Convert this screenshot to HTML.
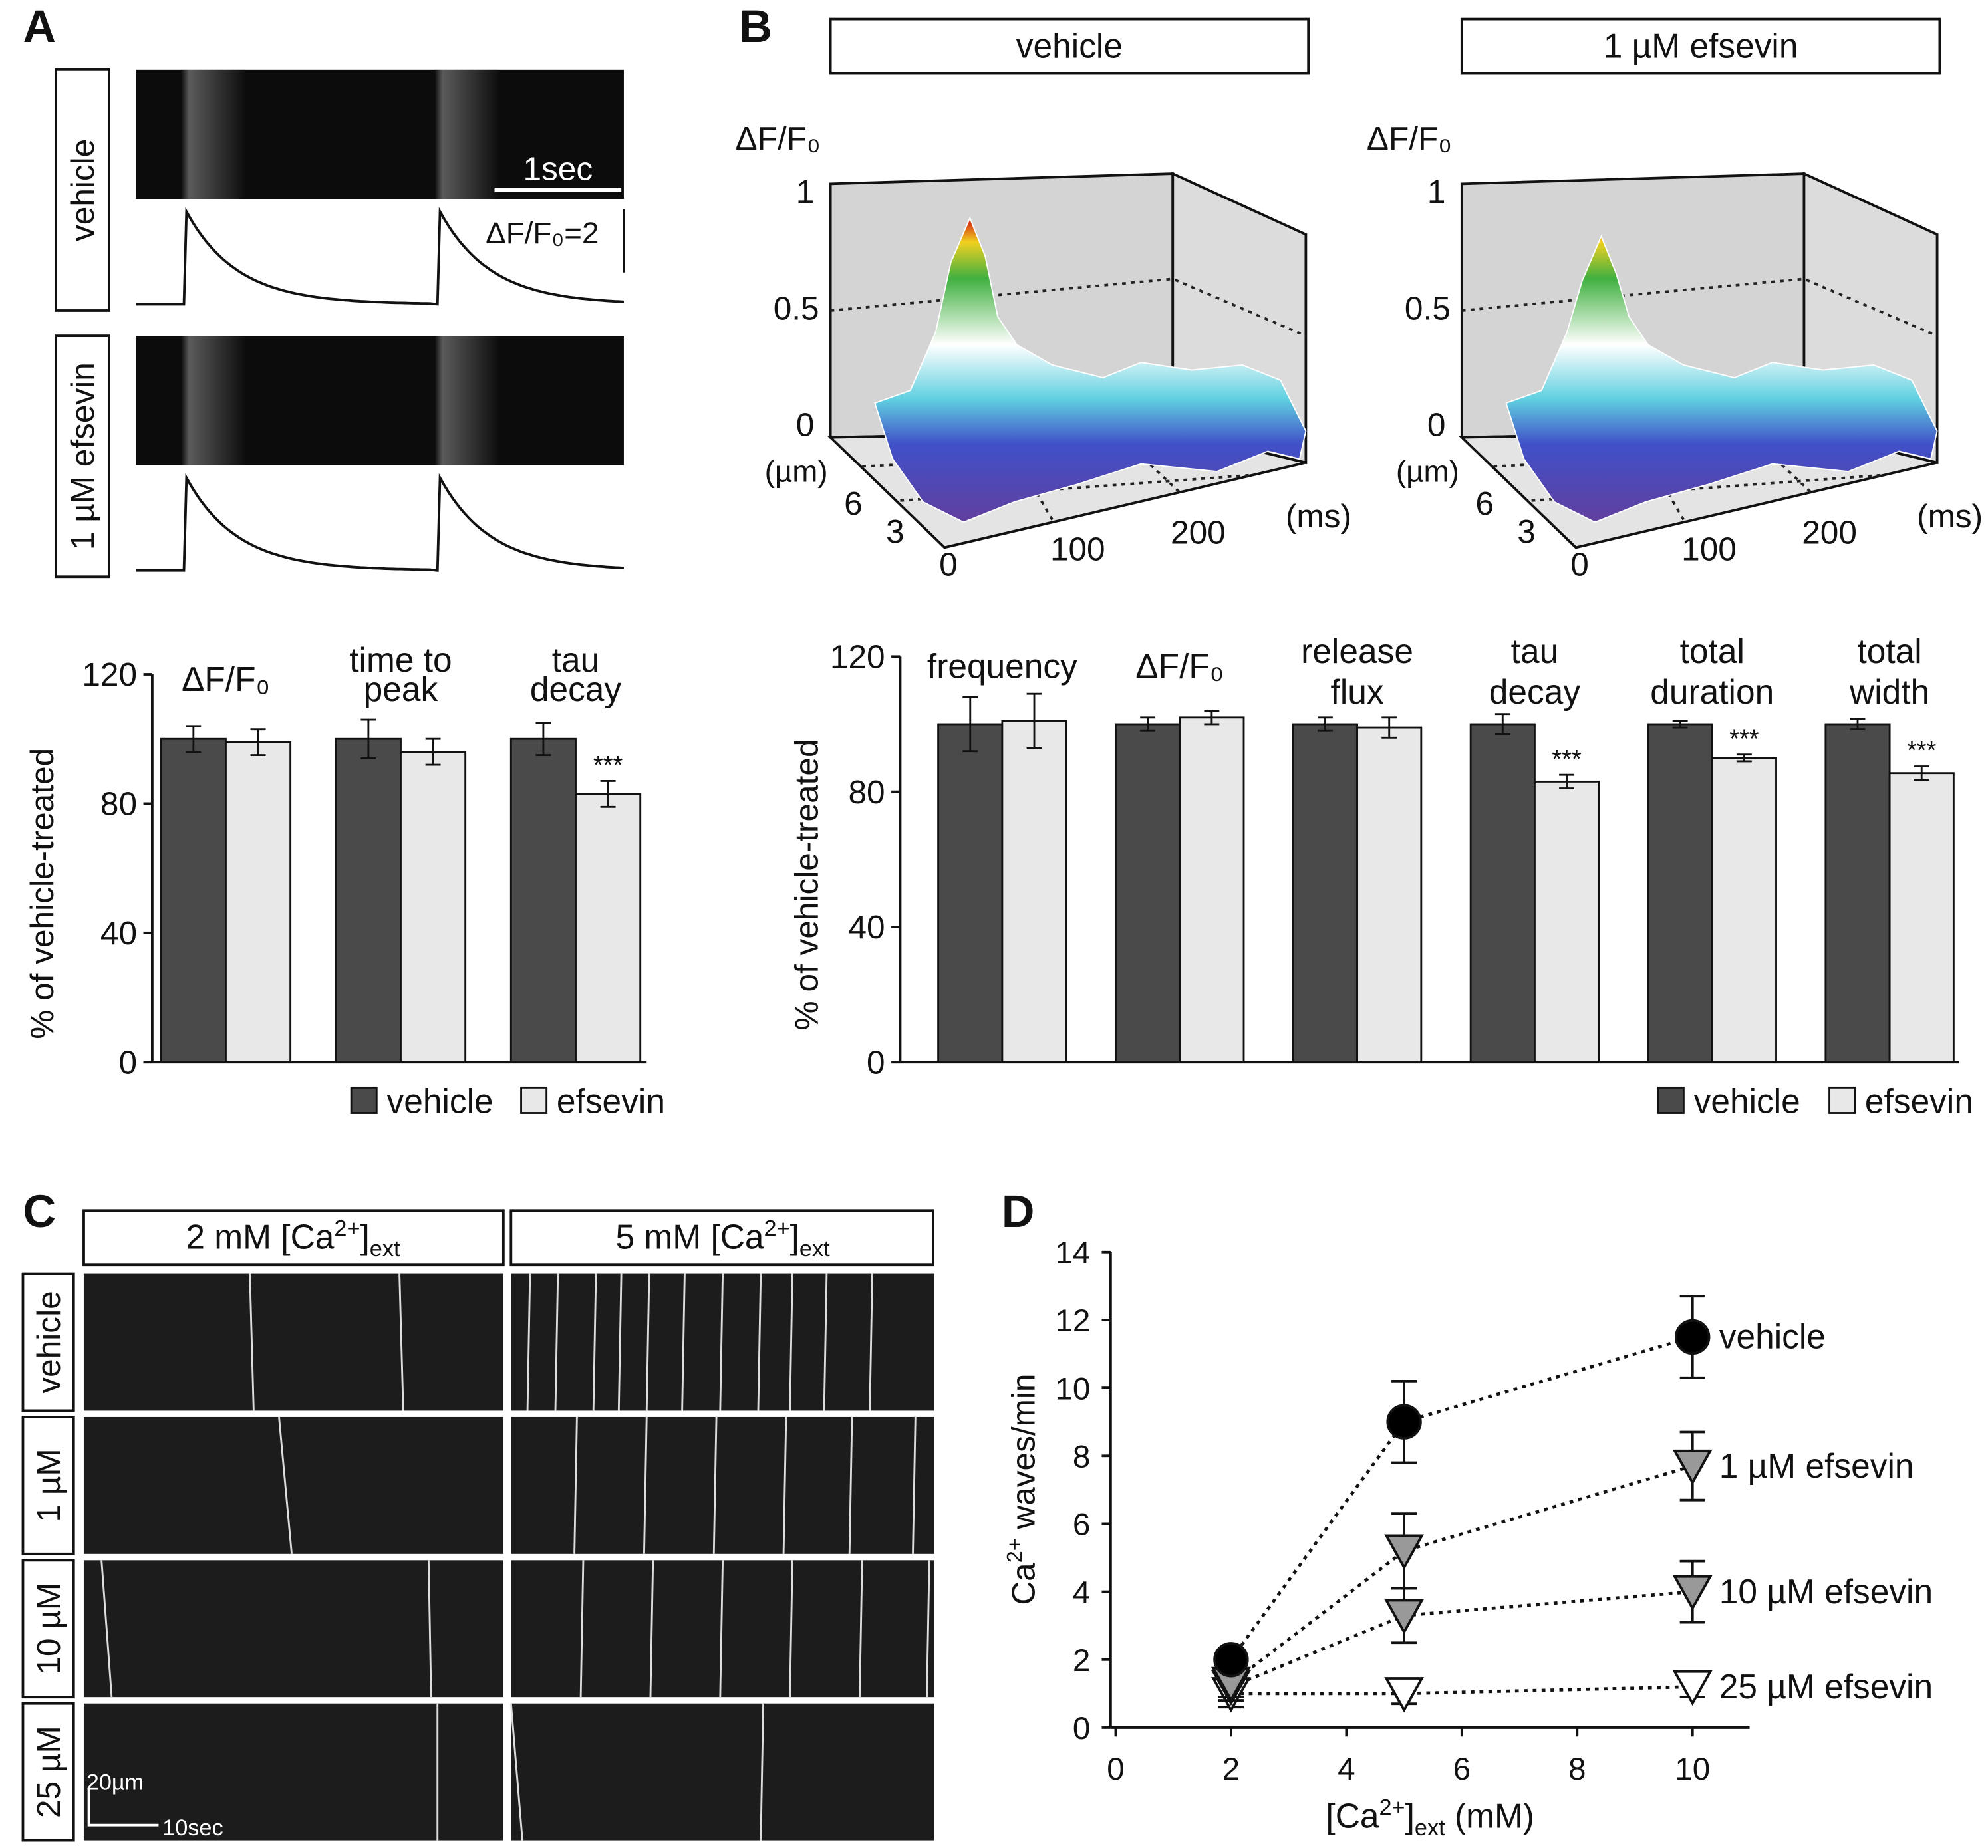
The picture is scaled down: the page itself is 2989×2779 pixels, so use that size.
<!DOCTYPE html>
<html><head><meta charset="utf-8">
<style>
html,body{margin:0;padding:0;background:#fff;}
svg{display:block;}
text{font-family:"Liberation Sans",Arial,sans-serif;fill:#111;}
</style></head>
<body>
<svg id="fig" xmlns="http://www.w3.org/2000/svg" width="2989" height="2779" viewBox="0 0 1568 1458">
<defs>
<linearGradient id="surf" gradientUnits="userSpaceOnUse" x1="0" y1="172" x2="0" y2="410">
<stop offset="0" stop-color="#d01010"/><stop offset="0.08" stop-color="#f0d020"/><stop offset="0.2" stop-color="#40b040"/>
<stop offset="0.42" stop-color="#ffffff"/><stop offset="0.6" stop-color="#60d0e0"/><stop offset="0.75" stop-color="#4050c8"/><stop offset="1" stop-color="#6040a0"/>
</linearGradient>
<linearGradient id="band" x1="0" x2="1" y1="0" y2="0">
<stop offset="0" stop-color="#111"/><stop offset="0.12" stop-color="#bbb"/><stop offset="1" stop-color="#111"/>
</linearGradient>
<clipPath id="traceClip"><rect x="100" y="0" width="392" height="1458"/></clipPath>
</defs>
<g id="root"></g>
</svg>
<script>
// ---------- data ----------
const aCats = [["ΔF/F₀"],["time to","peak"],["tau","decay"]];
const aVeh = [100,100,100];
const aEff = [99,96,83];
const aVehErr = [4,6,5];
const aEffErr = [4,4,4];
const aSig = ["","","***"];
const bCats = [["frequency"],["ΔF/F₀"],["release","flux"],["tau","decay"],["total","duration"],["total","width"]];
const bVeh = [100,100,100,100,100,100];
const bEff = [101,102,99,83,90,85.5];
const bVehErr = [8,2,2,3,1,1.5];
const bEffErr = [8,2,3,2,1,2];
const bSig = ["","","","***","***","***"];
const barTicks = [0,40,80,120];
const dX = [2,5,10];
const dVeh = [2,9,11.5];
const d1 = [1.3,5.2,7.7];
const d10 = [1.2,3.3,4.0];
const d25 = [1.0,1.0,1.2];
const dVehErr = [0.3,1.2,1.2];
const d1Err = [0.4,1.1,1.0];
const d10Err = [0.4,0.8,0.9];
const d25Err = [0.4,0.3,0.3];
const dXTicks = [0,2,4,6,8,10];
const dYTicks = [0,2,4,6,8,10,12,14];

const NS="http://www.w3.org/2000/svg";
const root=document.getElementById('root');
function el(tag,attrs,parent,txt){const e=document.createElementNS(NS,tag);for(const k in attrs)e.setAttribute(k,attrs[k]);if(txt!==undefined)e.textContent=txt;(parent||root).appendChild(e);return e;}
function txt(x,y,s,size,anchor,parent,extra){const t=el('text',Object.assign({x:x,y:y,'font-size':size||26,'text-anchor':anchor||'middle'},extra||{}),parent,s);return t;}

// panel letters
[["A",18,33],["B",583,33],["C",18,968],["D",790,968]].forEach(p=>{const t=txt(p[1],p[2],p[0],36,'start',null,{'font-weight':'bold'});

});

// ---------- Panel A traces ----------
const gA=el('g',{});


function sideBox(x,y,w,h,label,g,fs){el('rect',{x:x,y:y,width:w,height:h,fill:'#fff',stroke:'#111','stroke-width':2},g);
 const t=txt(0,0,label,fs||26,'middle',g,{transform:`translate(${x+w/2+9},${y+h/2}) rotate(-90)`});return t;}
sideBox(44,55,42,190,'vehicle',gA);
sideBox(44,265,42,190,'1 µM efsevin',gA);
[55,265].forEach((y0,i)=>{
 el('rect',{x:107,y:y0,width:385,height:102,fill:'#0c0c0c'},gA);
 el('rect',{x:143,y:y0,width:50,height:102,fill:'url(#band)',opacity:0.45},gA);
 el('rect',{x:343,y:y0,width:50,height:102,fill:'url(#band)',opacity:0.45},gA);
 const base=y0+185, top=y0+112;
 let d=`M107,${base}`;
 [147,347].forEach((px,j)=>{d+=` L${px-2},${base} L${px},${top}`;for(let k=1;k<=60;k++){const xx=px+k*3.2;d+=` L${xx.toFixed(1)},${(base-(base-top)*Math.exp(-k*3.2/40)).toFixed(1)}`;}});
 d+=` L492,${base}`;
 el('path',{d:d,fill:'none',stroke:'#111','stroke-width':2,'clip-path':'url(#traceClip)'},gA);
});
el('line',{x1:390,y1:150,x2:490,y2:150,stroke:'#fff','stroke-width':3},gA);
txt(440,142,'1sec',26,'middle',gA,{fill:'#fff',style:'fill:#fff'});
txt(383,192,'ΔF/F₀=2',24,'start',gA);
el('line',{x1:492,y1:165,x2:492,y2:215,stroke:'#111','stroke-width':2},gA);

// ---------- bar chart helper ----------
function barChart(o){
 const g=el('g',{});
 
 
 const y=v=>o.y0-(v/120)*(o.y0-o.y120);
 el('line',{x1:o.ax,y1:o.y120,x2:o.ax,y2:o.y0,stroke:'#111','stroke-width':2},g);
 el('line',{x1:o.ax,y1:o.y0,x2:o.axEnd,y2:o.y0,stroke:'#111','stroke-width':2},g);
 barTicks.forEach(t=>{el('line',{x1:o.ax-7,y1:y(t),x2:o.ax,y2:y(t),stroke:'#111','stroke-width':2},g);
  const tl=txt(o.ax-12,y(t)+9,String(t),26,'end',g);
  
  });
 const yl=txt(0,0,'% of vehicle-treated',26,'middle',g,{transform:`translate(${o.ylx},${(o.y0+o.y120)/2+20}) rotate(-90)`});
 
 
 o.cats.forEach((c,i)=>{
  const gx=o.g0+i*o.gstep;
  [[o.veh,o.vehErr,'#4a4a4a',0],[o.eff,o.effErr,'#e8e8e8',o.bw]].forEach((s,j)=>{
   const bx=gx+s[3], v=s[0][i], e=s[1][i];
   const r=el('rect',{x:bx,y:y(v),width:o.bw,height:o.y0-y(v),fill:s[2],stroke:'#111','stroke-width':1.5},g);
   
   
   const cx=bx+o.bw/2;
   el('line',{x1:cx,y1:y(v+e),x2:cx,y2:y(v-e),stroke:'#111','stroke-width':1.5},g);
   el('line',{x1:cx-6,y1:y(v+e),x2:cx+6,y2:y(v+e),stroke:'#111','stroke-width':1.5},g);
   el('line',{x1:cx-6,y1:y(v-e),x2:cx+6,y2:y(v-e),stroke:'#111','stroke-width':1.5},g);
  });
  if(o.sig[i]) txt(gx+o.bw*1.5,y(o.eff[i]+o.effErr[i])-6,o.sig[i],20,'middle',g);
  const cx=gx+o.bw;
  if(c.length===1){txt(cx,o.labY1,c[0],27,'middle',g);}
  else{txt(cx,o.labY2a,c[0],27,'middle',g);txt(cx,o.labY2b,c[1],27,'middle',g);}
 });
 const lg=el('g',{},g);
 
 
 el('rect',{x:o.lx,y:858,width:20,height:20,fill:'#4a4a4a',stroke:'#111','stroke-width':1.5},lg);
 txt(o.lx+28,878,'vehicle',27,'start',lg);
 el('rect',{x:o.lx2,y:858,width:20,height:20,fill:'#e8e8e8',stroke:'#111','stroke-width':1.5},lg);
 txt(o.lx2+28,878,'efsevin',27,'start',lg);
}
barChart({name:'panel-a-bar-chart',ax:120,axEnd:510,y0:838,y120:532,g0:127,gstep:138,bw:51,cats:aCats,veh:aVeh,eff:aEff,vehErr:aVehErr,effErr:aEffErr,sig:aSig,ylx:42,labY1:545,labY2a:530,labY2b:553,lx:277,lx2:411});
barChart({name:'panel-b-bar-chart',ax:710,axEnd:1545,y0:838,y120:518,g0:740,gstep:140,bw:50.5,cats:bCats,veh:bVeh,eff:bEff,vehErr:bVehErr,effErr:bEffErr,sig:bSig,ylx:645,labY1:535,labY2a:523,labY2b:555,lx:1308,lx2:1443});

// ---------- Panel B 3D plots ----------
function topBox(x,y,w,h,label,parent,fs){el('rect',{x:x,y:y,width:w,height:h,fill:'#fff',stroke:'#111','stroke-width':2},parent);return txt(x+w/2,y+h/2+9,label,fs||27,'middle',parent);}
[[0,'vehicle',1],[498,'1 µM efsevin',0.88]].forEach((p,i)=>{
 const dx=p[0], g=el('g',{transform:`translate(${dx},0)`});
 
 
 topBox(655,15,377,43,p[1],g);
 el('polygon',{points:'655,145 925,137 925,340 655,345',fill:'#d4d4d4',stroke:'#111','stroke-width':2},g);
 el('polygon',{points:'925,137 1030,185 1030,365 925,340',fill:'#dcdcdc',stroke:'#111','stroke-width':2},g);
 el('polygon',{points:'655,345 925,340 1030,365 745,432',fill:'#e4e4e4',stroke:'#111','stroke-width':2},g);
 el('polyline',{points:'655,245 925,220 1030,265',fill:'none',stroke:'#222','stroke-width':2,'stroke-dasharray':'3,4'},g);
 el('polyline',{points:'680,368 950,355',fill:'none',stroke:'#222','stroke-width':2,'stroke-dasharray':'3,4'},g);
 el('polyline',{points:'710,395 985,375',fill:'none',stroke:'#222','stroke-width':2,'stroke-dasharray':'3,4'},g);
 el('polyline',{points:'830,410 790,342',fill:'none',stroke:'#222','stroke-width':2,'stroke-dasharray':'3,4'},g);
 el('polyline',{points:'930,388 880,341',fill:'none',stroke:'#222','stroke-width':2,'stroke-dasharray':'3,4'},g);
 const s=p[2];
 const pk=172+(1-s)*120;
 el('path',{d:`M690,318 L718,308 L738,262 L750,${pk+35} L765,${pk} L777,${pk+30} L787,250 L802,272 L830,288 L870,298 L900,286 L940,292 L980,288 L1010,300 L1030,340 L1025,362 L1000,356 L960,372 L900,366 L850,382 L800,396 L760,412 L728,396 L704,362 Z`,fill:'url(#surf)',stroke:'#ffffff','stroke-width':1},g);
 txt(580,118,'ΔF/F₀',26,'start',g);
 txt(635,160,'1',26,'middle',g);txt(628,252,'0.5',26,'middle',g);txt(635,344,'0',26,'middle',g);
 txt(628,380,'(µm)',24,'middle',g);txt(673,406,'6',26,'middle',g);txt(706,428,'3',26,'middle',g);
 txt(748,454,'0',26,'middle',g);txt(850,442,'100',26,'middle',g);txt(945,429,'200',26,'middle',g);txt(1040,416,'(ms)',26,'middle',g);
});

// ---------- Panel C ----------
const gC=el('g',{});


topBox(66,955,331,43,'',gC);
const t1=el('text',{x:231,y:985,'font-size':27,'text-anchor':'middle'},gC);
t1.innerHTML='2 mM [Ca<tspan dy="-10" font-size="18">2+</tspan><tspan dy="10">]</tspan><tspan dy="6" font-size="18">ext</tspan>';
topBox(403,955,333,43,'',gC);
const t2=el('text',{x:570,y:985,'font-size':27,'text-anchor':'middle'},gC);
t2.innerHTML='5 mM [Ca<tspan dy="-10" font-size="18">2+</tspan><tspan dy="10">]</tspan><tspan dy="6" font-size="18">ext</tspan>';
const rows=[1005,1118,1231,1344];
const rowLab=['vehicle','1 µM','10 µM','25 µM'];
const linesL=[[[197,200],[315,318]],[[220,230]],[[80,88],[338,340]],[[345,345]]];
const linesR=[[[418,416],[440,438],[470,468],[490,488],[512,510],[540,538],[570,568],[600,598],[625,623],[652,650],[688,686]],[[455,453],[510,508],[565,563],[620,618],[672,670],[722,720]],[[460,458],[515,513],[570,568],[625,623],[680,678],[733,731]],[[403,412],[602,600]]];
rows.forEach((y0,i)=>{
 sideBox(18,y0,40,108,rowLab[i],gC,26);
 el('rect',{x:66,y:y0,width:331,height:108,fill:'#1c1c1c'},gC);
 el('rect',{x:403,y:y0,width:334,height:108,fill:'#1c1c1c'},gC);
 linesL[i].forEach(l=>el('line',{x1:l[0],y1:y0,x2:l[1],y2:y0+108,stroke:'#ddd','stroke-width':1.5},gC));
 linesR[i].forEach(l=>el('line',{x1:l[0],y1:y0,x2:l[1],y2:y0+108,stroke:'#ddd','stroke-width':1.5},gC));
});
el('polyline',{points:'70,1412 70,1440 125,1440',fill:'none',stroke:'#fff','stroke-width':2},gC);
txt(68,1412,'20µm',18,'start',gC,{style:'fill:#fff'});
txt(128,1448,'10sec',18,'start',gC,{style:'fill:#fff'});

// ---------- Panel D ----------
const gD=el('g',{});


const X=v=>880+v*45.5, Y=v=>1363-v*26.8;
el('line',{x1:876,y1:Y(0),x2:1380,y2:Y(0),stroke:'#111','stroke-width':2},gD);
el('line',{x1:876,y1:Y(0),x2:876,y2:Y(14),stroke:'#111','stroke-width':2},gD);
dYTicks.forEach(t=>{el('line',{x1:869,y1:Y(t),x2:876,y2:Y(t),stroke:'#111','stroke-width':2},gD);const l=txt(860,Y(t)+9,String(t),25,'end',gD);
 
 });
dXTicks.forEach(t=>{el('line',{x1:X(t),y1:Y(0),x2:X(t),y2:Y(0)+7,stroke:'#111','stroke-width':2},gD);const l=txt(X(t),1404,String(t),25,'middle',gD);
 
 });
const xt=el('text',{x:1128,y:1442,'font-size':27,'text-anchor':'middle'},gD);
xt.innerHTML='[Ca<tspan dy="-10" font-size="18">2+</tspan><tspan dy="10">]</tspan><tspan dy="6" font-size="18">ext</tspan><tspan dy="-6"> (mM)</tspan>';
const yt=el('text',{'font-size':26,'text-anchor':'middle',transform:'translate(816,1175) rotate(-90)'},gD);
yt.innerHTML='Ca<tspan dy="-10" font-size="17">2+</tspan><tspan dy="10"> waves/min</tspan>';
const series=[[d25,d25Err,'#fff','tri','25 µM efsevin',1.2],[d10,d10Err,'#999','tri','10 µM efsevin',4.0],[d1,d1Err,'#999','tri','1 µM efsevin',7.7],[dVeh,dVehErr,'#000','circ','vehicle',11.5]];
series.forEach((s,si)=>{
 const sg=el('g',{},gD);
 
 
 el('polyline',{points:dX.map((x,i)=>X(x)+','+Y(s[0][i])).join(' '),fill:'none',stroke:'#111','stroke-width':2.5,'stroke-dasharray':'3,4'},sg);
 dX.forEach((x,i)=>{const cx=X(x),cy=Y(s[0][i]),e=s[1][i];
  el('line',{x1:cx,y1:Y(s[0][i]+e),x2:cx,y2:Y(s[0][i]-e),stroke:'#111','stroke-width':2},sg);
  el('line',{x1:cx-10,y1:Y(s[0][i]+e),x2:cx+10,y2:Y(s[0][i]+e),stroke:'#111','stroke-width':2},sg);
  el('line',{x1:cx-10,y1:Y(s[0][i]-e),x2:cx+10,y2:Y(s[0][i]-e),stroke:'#111','stroke-width':2},sg);
  let m;
  if(s[3]==='circ') m=el('circle',{cx:cx,cy:cy,r:13,fill:s[2],stroke:'#111','stroke-width':2},sg);
  else m=el('polygon',{points:`${cx-14},${cy-12} ${cx+14},${cy-12} ${cx},${cy+13}`,fill:s[2],stroke:'#111','stroke-width':2},sg);
  
  
 });
 const lt=txt(1356,Y(s[5])+9,s[4],27,'start',sg);
 
 
});
</script>
</body></html>
